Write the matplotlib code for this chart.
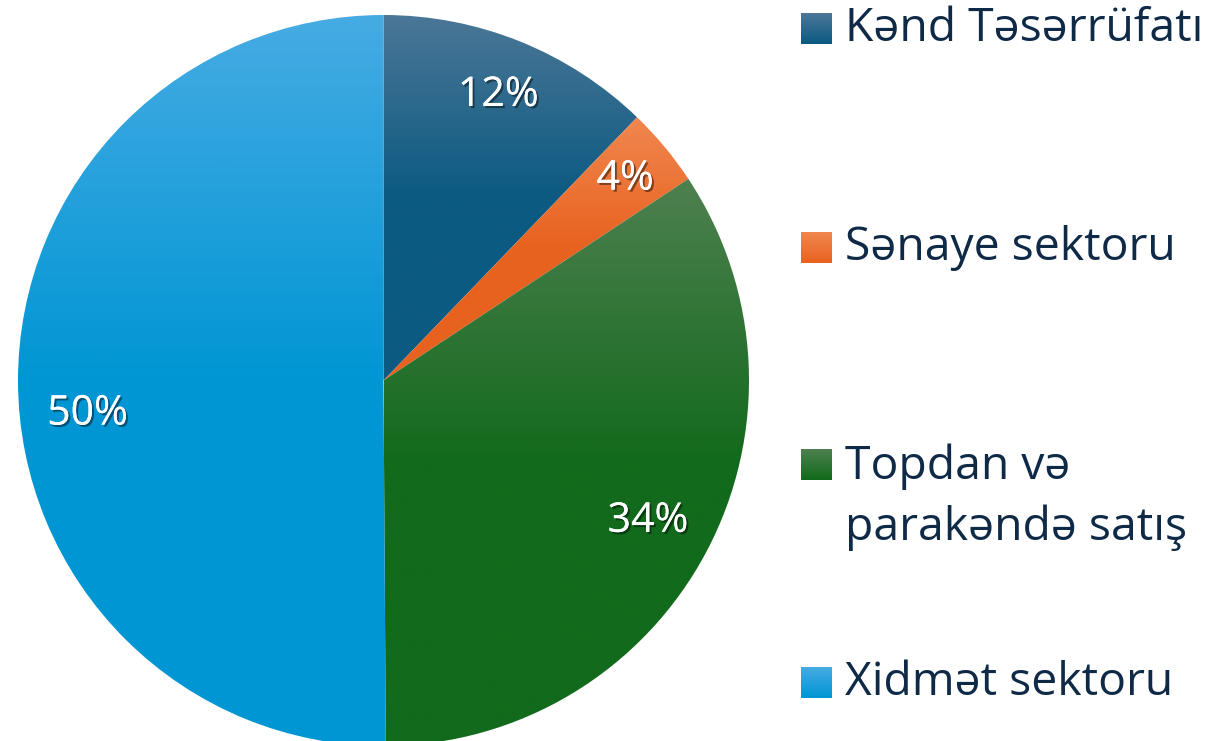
import numpy as np
import matplotlib
matplotlib.use("Agg")
import matplotlib.pyplot as plt
import matplotlib.patheffects as pe
from matplotlib.colors import LinearSegmentedColormap

categories = ["Kənd Təsərrüfatı", "Sənaye sektoru", "Topdan və\nparakəndə satış", "Xidmət sektoru"]
values = [12.2, 3.5, 34.2, 50.1]
pct_labels = ["12%", "4%", "34%", "50%"]
top_colors = ["#4b7797", "#f0874f", "#4e8050", "#46abe3"]
bottom_colors = ["#0c5a82", "#e8621f", "#126a1c", "#0096d4"]

FONT = "Open Sans"
W, H = 1209, 741
fig = plt.figure(figsize=(W / 100, H / 100), dpi=100)

cx, cy, R = 383.5, 741 - 380.5, 365.5
ax = fig.add_axes([(cx - R) / W, (cy - R) / H, 2 * R / W, 2 * R / H])
wedges, _ = ax.pie(values, startangle=90, counterclock=False, radius=1,
                   wedgeprops=dict(linewidth=0))
ax.set_xlim(-1, 1)
ax.set_ylim(-1, 1)
ax.set_aspect("equal")
ax.axis("off")

for w, tc, bc in zip(wedges, top_colors, bottom_colors):
    w.set_facecolor("none")
    verts = w.get_path().vertices
    y0, y1 = verts[:, 1].min(), verts[:, 1].max()
    x0, x1 = verts[:, 0].min(), verts[:, 0].max()
    # top colour at the top, reaching the bottom colour half-way down, then flat
    cmap = LinearSegmentedColormap.from_list("g", [(0, bc), (0.5, bc), (1, tc)])
    grad = np.linspace(0, 1, 512).reshape(-1, 1)
    im = ax.imshow(grad, cmap=cmap, origin="lower", extent=[x0, x1, y0, y1],
                   aspect="auto", interpolation="bilinear", zorder=1)
    im.set_clip_path(w)
ax.set_xlim(-1, 1)
ax.set_ylim(-1, 1)

# percentage labels
dists = [0.84, 0.86, 0.82, 0.81]
cum = np.cumsum([0] + values)
total = sum(values)
shadow = [pe.withSimplePatchShadow(offset=(1.5, -1.5), shadow_rgbFace="#000000", alpha=0.45), pe.Normal()]
for i, lab in enumerate(pct_labels):
    mid = (cum[i] + cum[i + 1]) / 2 / total
    ang = np.deg2rad(90 - 360 * mid)
    r = dists[i]
    x, y = r * np.cos(ang), r * np.sin(ang)
    if i == 3:
        y -= 0.09
    ax.text(x, y, lab, ha="center", va="center", color="white", fontsize=29.5,
            family=FONT, zorder=5, path_effects=shadow)

# legend
lax = fig.add_axes([0, 0, 1, 1], facecolor="none")
lax.axis("off")
legend_y = [29, 248, 465, 683]
text_y = [29, 248, 497, 683]
for cat, tc, bc, sy, ty in zip(categories, top_colors, bottom_colors, legend_y, text_y):
    cmap = LinearSegmentedColormap.from_list("g", [tc, bc])
    grad = np.linspace(0, 1, 64).reshape(-1, 1)
    lax.imshow(grad, cmap=cmap, extent=[801, 832, sy + 15.5, sy - 15.5], aspect="auto",
               interpolation="bilinear")
    lax.text(845, ty, cat, ha="left", va="center", color="#0f2a47", fontsize=33.3,
             family=FONT, linespacing=1.42)
lax.set_xlim(0, W)
lax.set_ylim(H, 0)

fig.savefig("out.png", dpi=100)
